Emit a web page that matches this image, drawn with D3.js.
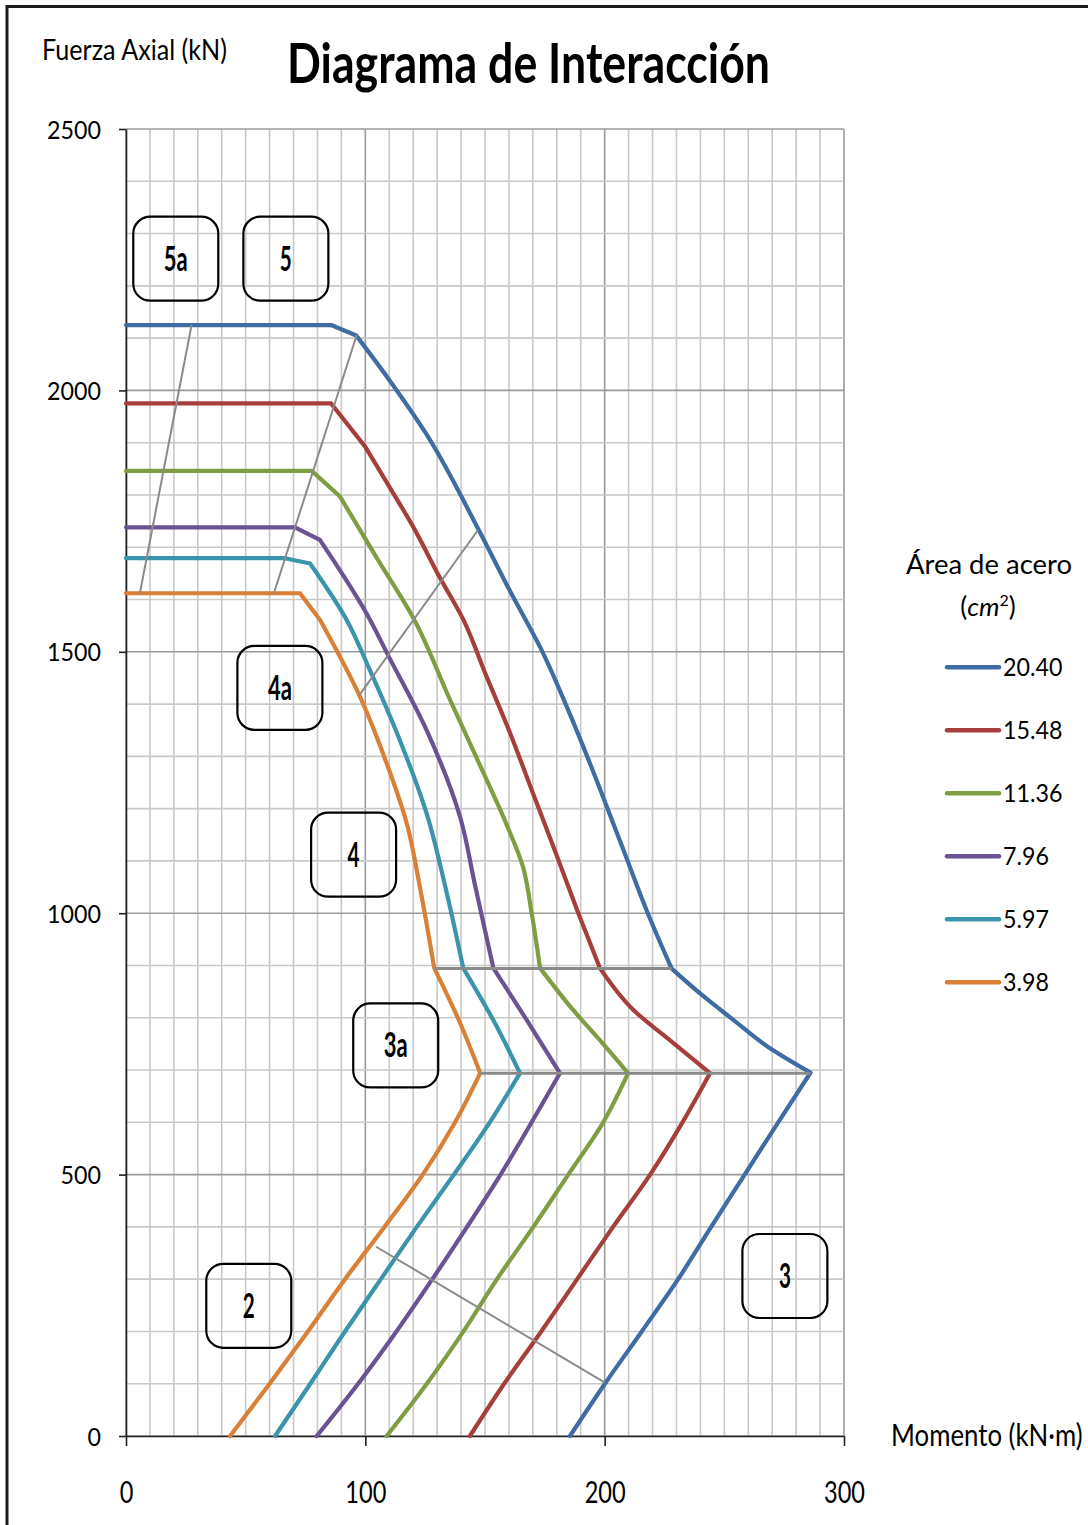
<!DOCTYPE html>
<html>
<head>
<meta charset="utf-8">
<script src="https://cdn.jsdelivr.net/npm/d3@7"></script>
<style>
  html, body { margin: 0; padding: 0; background: #fff; }
  svg { display: block; }
  text { font-family: Lato, "Open Sans", "Noto Sans", sans-serif; fill: #000; }
</style>
</head>
<body>
<svg id="chart" width="1088" height="1525"></svg>
<script>
// Axis ticks
const momentTicks = [0, 100, 200, 300];
const axialTicks = [0, 500, 1000, 1500, 2000, 2500];

// Steel area of each curve (cm²), legend order
const steelAreas = ["20.40", "15.48", "11.36", "7.96", "5.97", "3.98"];

// Interaction curves: [moment kN·m, axial kN]
const curve2040 = [[0,2125],[85.7,2125],[96.2,2105],[110,2020],[125,1920],[147.5,1732],[160,1620],[174,1500],[186,1375],[197,1250],[207.5,1125],[218,1000],[228,894],[240,846],[254,795],[268,745],[286,695],[272.5,600],[258.5,500],[244.5,400],[230.7,300],[215.5,200],[200.1,100],[185.5,0]];
const curve1548 = [[0,1975],[85.7,1975],[100,1892],[110,1816],[120,1739],[131,1643],[141,1561],[150,1460],[160,1350],[170,1230],[180,1110],[189,1000],[198,895],[212,815],[228.6,752],[244,694],[232.5,600],[219,500],[203.5,400],[188.5,300],[173.5,200],[158,100],[143.7,0]];
const curve1136 = [[0,1846],[77.6,1846],[89.4,1797],[104.7,1680],[120,1565],[135.4,1408],[150.7,1255],[159,1170],[165.9,1088],[169.5,1000],[173,895],[186.8,815],[198,757],[209.8,694],[199.4,600],[184.8,500],[170.2,400],[155,300],[141,200],[125.7,100],[108.9,0]];
const curve796 = [[0,1738],[70.6,1738],[81,1714],[102,1561],[109,1498],[125.6,1350],[139.6,1184],[146,1050],[152.1,924],[153.5,895],[167.4,796],[181.3,694],[169.5,600],[156.5,500],[142.5,400],[128,300],[113,200],[97,100],[79.7,0]];
const curve597 = [[0,1679],[66.4,1679],[76.9,1669],[92.2,1561],[101.9,1465],[114.5,1330],[125.6,1191],[134,1039],[140.9,895],[153.4,796],[164.6,694],[152,600],[137,500],[121.5,400],[106.5,300],[91.5,200],[77,100],[62.3,0]];
const curve398 = [[0,1612],[72.7,1612],[81.1,1561],[97.8,1414],[108.9,1287],[117.3,1172],[122.8,1050],[128.8,895],[139.6,790],[148,694],[137.5,600],[124,500],[108,400],[91.5,300],[76,200],[60,100],[43.5,0]];
const curves = [curve2040, curve1548, curve1136, curve796, curve597, curve398];

// Zone boundaries between the curves
const boundary5a = [[27.4,2125],[5.8,1612]];
const boundary5 = [[96.4,2106],[61.8,1612]];
const boundary4a = [[147.1,1733],[97.5,1417]];
const boundary4 = [[128.8,894],[228,894]];
const boundary3a = [[148,694],[286,694]];
const boundary2 = [[104.5,362],[200.1,102]];
const boundaries = [boundary5a, boundary5, boundary4a, boundary4, boundary3a, boundary2];

// Zone labels and their centres [moment, axial]
const zoneNames = ["5a", "5", "4a", "4", "3a", "2", "3"];
const zoneCentres = [[20.8,2252],[66.8,2252],[64.3,1431],[95.1,1112],[112.7,747],[51.3,249],[275.3,306]];

const palette = ["#3E6CA3", "#A63F3C", "#7F9E42", "#6B5392", "#3A94AA", "#D97F36"];

const svg = d3.select("#chart");
const x = d3.scaleLinear().domain([0, 300]).range([126, 844]);
const y = d3.scaleLinear().domain([0, 2500]).range([1436, 129]);

// Page frame
svg.append("rect").attr("x", 0).attr("y", 0).attr("width", 1088).attr("height", 1525).attr("fill", "#fff");
svg.append("rect").attr("x", 7).attr("y", 6.5).attr("width", 1100).attr("height", 1540)
  .attr("fill", "none").attr("stroke", "#1a1a1a").attr("stroke-width", 3);

// Squeeze text horizontally to a target width
function fit(sel, width) {
  sel.attr("textLength", width).attr("lengthAdjust", "spacingAndGlyphs");
}
function condense(sel, k) {
  sel.each(function () {
    const w = this.getComputedTextLength();
    d3.select(this).attr("textLength", w * k).attr("lengthAdjust", "spacingAndGlyphs");
  });
}

// Grid
const grid = svg.append("g");
const xGrid = d3.range(0, 301, 10);
const yGrid = d3.range(0, 2501, 100);
grid.selectAll("line.v").data(xGrid).join("line")
  .attr("x1", d => x(d)).attr("x2", d => x(d))
  .attr("y1", y(2500)).attr("y2", y(0))
  .attr("stroke", d => d % 100 === 0 ? "#9a9a9a" : "#c9c9c9")
  .attr("stroke-width", 1.6);
grid.selectAll("line.h").data(yGrid).join("line")
  .attr("x1", x(0)).attr("x2", x(300))
  .attr("y1", d => y(d)).attr("y2", d => y(d))
  .attr("stroke", d => d % 500 === 0 ? "#9a9a9a" : "#c9c9c9")
  .attr("stroke-width", 1.6);

// Axes
const yAxis = svg.append("g").attr("transform", `translate(${x(0)},0)`)
  .call(d3.axisLeft(y).tickValues(axialTicks).tickFormat(d3.format("d"))
    .tickSize(7).tickSizeOuter(0).tickPadding(18));
const xAxis = svg.append("g").attr("transform", `translate(0,${y(0)})`)
  .call(d3.axisBottom(x).tickValues(momentTicks).tickFormat(d3.format("d"))
    .tickSize(10).tickSizeOuter(0));
[yAxis, xAxis].forEach(a => {
  a.select(".domain").attr("stroke", "#222").attr("stroke-width", 1.6);
  a.selectAll(".tick line").attr("stroke", "#222").attr("stroke-width", 1.6);
  a.selectAll("text").attr("font-family", "Lato, 'Open Sans', sans-serif").attr("fill", "#111");
});
yAxis.selectAll("text").attr("font-size", 25).attr("dy", "0.36em");
condense(yAxis.selectAll("text"), 0.93);
xAxis.selectAll("text").attr("font-size", 31).attr("y", 67).attr("dy", 0);
condense(xAxis.selectAll("text"), 0.76);

// Curves: straight plateau and first bend, then branches split at the knee
// and at the tip, each smoothed monotonically along the axial direction
const straight = d3.line().x(d => x(d[0])).y(d => y(d[1]));
const smooth = d3.line().x(d => x(d[0])).y(d => y(d[1])).curve(d3.curveMonotoneY);
function curvePath(pts) {
  const tip = d3.maxIndex(pts, d => d[0]);
  const knee = d3.minIndex(pts.slice(0, tip), d => Math.abs(d[1] - 895));
  return straight(pts.slice(0, 3)) +
    smooth(pts.slice(2, knee + 1)) +
    smooth(pts.slice(knee, tip + 1)) +
    smooth(pts.slice(tip));
}
svg.append("g").selectAll("path").data(curves).join("path")
  .attr("d", curvePath)
  .attr("fill", "none")
  .attr("stroke", (d, i) => palette[i])
  .attr("stroke-width", 4.2)
  .attr("stroke-linejoin", "round")
  .attr("stroke-linecap", "round");

// Zone boundaries
svg.append("g").selectAll("path").data(boundaries).join("path")
  .attr("d", straight)
  .attr("fill", "none")
  .attr("stroke", "#8a8a8a")
  .attr("stroke-width", (d) => d[0][1] === d[1][1] ? 3 : 2);

// Zone labels
const zones = svg.append("g").selectAll("g").data(zoneNames).join("g")
  .attr("transform", (d, i) => `translate(${x(zoneCentres[i][0])},${y(zoneCentres[i][1])})`);
zones.append("rect")
  .attr("x", -42.5).attr("y", -42).attr("width", 85).attr("height", 84)
  .attr("rx", 17).attr("ry", 17)
  .attr("fill", "none").attr("stroke", "#000").attr("stroke-width", 2.2);
zones.append("text")
  .text(d => d)
  .attr("text-anchor", "middle")
  .attr("y", 12)
  .attr("font-family", "'Liberation Sans Narrow', 'DejaVu Sans Condensed', 'Liberation Sans', sans-serif")
  .attr("font-weight", "bold")
  .attr("font-size", 34)
  .each(function (d) { fit(d3.select(this), 12 * d.length); });

// Titles
fit(svg.append("text").attr("x", 287).attr("y", 83).attr("font-size", 56).attr("font-weight", "bold")
  .text("Diagrama de Interacción"), 483);
fit(svg.append("text").attr("x", 42).attr("y", 60).attr("font-size", 29)
  .text("Fuerza Axial (kN)"), 185);
svg.append("text").attr("transform", "translate(891,1446) scale(0.86,1)").attr("font-size", 30)
  .text("Momento (kN·m)");

// Legend
const legend = svg.append("g");
fit(legend.append("text").attr("x", 906).attr("y", 574).attr("font-size", 27)
  .text("Área de acero"), 166);
const unit = legend.append("text").attr("x", 988).attr("y", 616).attr("font-size", 26).attr("text-anchor", "middle");
unit.append("tspan").text("(");
unit.append("tspan").attr("font-style", "italic").text("cm");
unit.append("tspan").attr("font-size", 16).attr("dy", -10).text("2");
unit.append("tspan").attr("dy", 10).text(")");

const items = legend.selectAll("g.item").data(steelAreas).join("g")
  .attr("transform", (d, i) => `translate(0,${667.3 + i * 63})`);
items.append("line")
  .attr("x1", 947).attr("x2", 999).attr("y1", 0).attr("y2", 0)
  .attr("stroke", (d, i) => palette[i]).attr("stroke-width", 4.5).attr("stroke-linecap", "round");
items.append("text").attr("x", 1003).attr("y", 9).attr("font-size", 25).text(d => d);
condense(items.selectAll("text"), 0.93);
</script>
</body>
</html>
